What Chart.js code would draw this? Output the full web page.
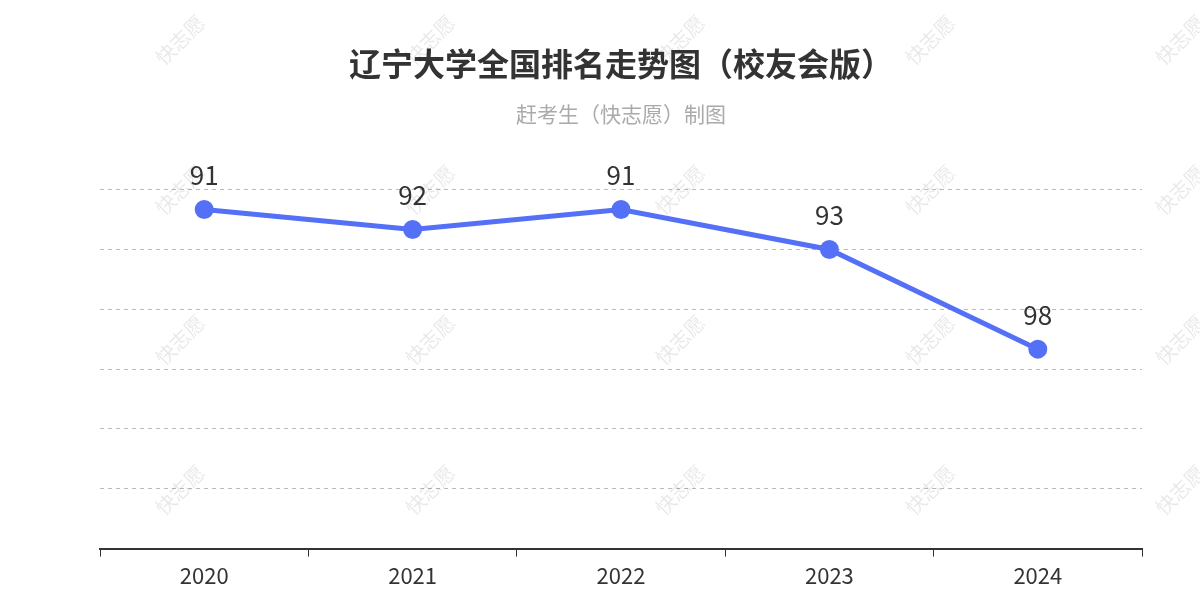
<!DOCTYPE html>
<html><head><meta charset="utf-8">
<script src="https://cdn.jsdelivr.net/npm/chart.js@4/dist/chart.umd.min.js"></script>
<style>html,body{margin:0;padding:0;background:#fff}#w{width:1200px;height:600px}</style>
</head><body><div id="w"><canvas id="c"></canvas></div>
<script>
const categories=["2020","2021","2022","2023","2024"];
const ranks=[91,92,91,93,98];
const yMin=90, yMax=108, yStep=3;
const titleText="辽宁大学全国排名走势图（校友会版）";
const subtitleText="赶考生（快志愿）制图";
const watermark="快志愿";
const FONT="'Noto Sans CJK SC','Noto Sans',sans-serif";

const labelPlugin={id:'lbl',afterDatasetsDraw(ch){
  const ctx=ch.ctx;const meta=ch.getDatasetMeta(0);
  ctx.save();ctx.fillStyle='#333';ctx.font="26px "+FONT;ctx.textAlign='center';ctx.textBaseline='bottom';
  meta.data.forEach((p,i)=>ctx.fillText(ranks[i],p.x,p.y-21));
  ctx.restore();}};
const wmPlugin={id:'wm',afterDraw(ch){
  const ctx=ch.ctx;ctx.save();ctx.fillStyle='rgba(0,0,0,0.09)';ctx.font="20px "+FONT;ctx.textAlign='center';ctx.textBaseline='middle';
  for(let x=180;x<1250;x+=250){for(let y=40;y<600;y+=150){ctx.save();ctx.translate(x,y);ctx.rotate(-Math.PI/4);ctx.fillText(watermark,0,0);ctx.restore();}}
  ctx.restore();}};

new Chart(document.getElementById('c'),{
  type:'line',
  data:{labels:categories,datasets:[{data:ranks,borderColor:'#5470f6',backgroundColor:'#5470f6',borderWidth:5,pointRadius:7,pointHoverRadius:7,tension:0}]},
  options:{responsive:true,maintainAspectRatio:false,animation:false,
    layout:{padding:{left:100,right:58,top:0,bottom:5}},
    plugins:{legend:{display:false},tooltip:{enabled:false},
      title:{display:true,text:titleText,color:'#333',font:{family:FONT,size:32,weight:'bold'},padding:{top:45,bottom:18}},
      subtitle:{display:true,text:subtitleText,color:'#aaa',font:{family:FONT,size:21},padding:{bottom:63}}},
    scales:{
      x:{offset:true,grid:{display:true,drawOnChartArea:false,color:'#333',tickLength:8,offset:true},border:{color:'#333',width:2},
        ticks:{color:'#333',font:{family:FONT,size:22},padding:6}},
      y:{reverse:true,min:yMin,max:yMax,ticks:{stepSize:yStep,display:false},border:{display:false,dash:[4,4]},
        grid:{color:'#bbb',lineWidth:1,drawTicks:false}}
    }}
  ,plugins:[labelPlugin,wmPlugin]});
</script></body></html>
